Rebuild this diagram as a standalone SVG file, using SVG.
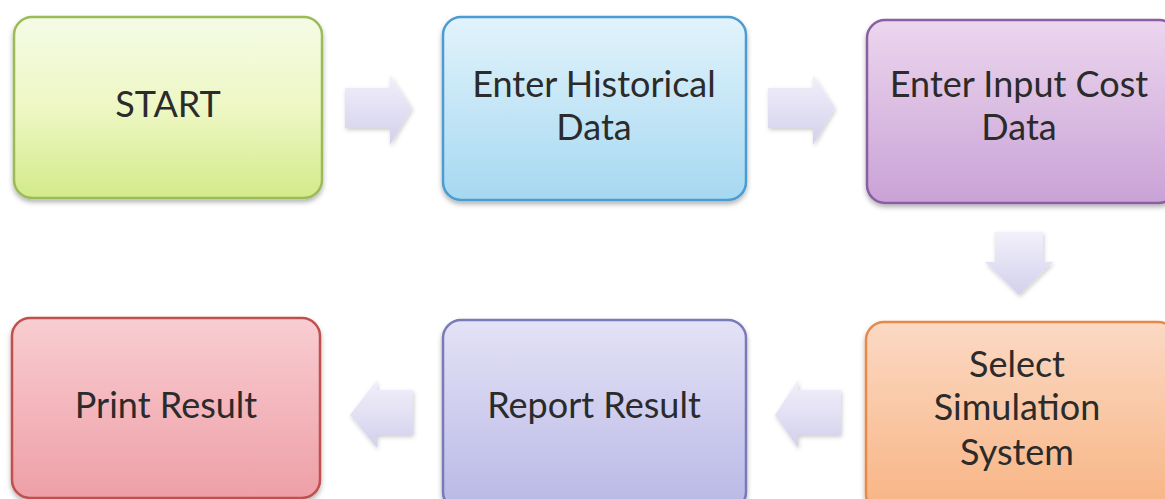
<svg xmlns="http://www.w3.org/2000/svg" width="1165" height="499" viewBox="0 0 1165 499">
<style>
.lbl{font-family:Lato,"Open Sans","Liberation Sans",sans-serif;font-size:36px;fill:#2b2b2b;text-anchor:middle}
.box{stroke-width:2.5;filter:url(#sh)}
.arr{fill:url(#ga);filter:url(#sh2)}
</style>
<defs>
<filter id="sh" x="-10%" y="-10%" width="120%" height="125%"><feDropShadow dx="0" dy="3" stdDeviation="2.5" flood-color="#000" flood-opacity="0.3"/></filter>
<filter id="sh2" x="-20%" y="-20%" width="140%" height="140%"><feDropShadow dx="1" dy="2" stdDeviation="2" flood-color="#000" flood-opacity="0.2"/></filter>
<linearGradient id="gg" x1="0" y1="0" x2="0" y2="1"><stop offset="0" stop-color="#f4fbe6"/><stop offset="0.5" stop-color="#eef7c4"/><stop offset="1" stop-color="#d3ea8a"/></linearGradient>
<linearGradient id="gb" x1="0" y1="0" x2="0" y2="1"><stop offset="0" stop-color="#e2f3fb"/><stop offset="1" stop-color="#a6d8f1"/></linearGradient>
<linearGradient id="gp" x1="0" y1="0" x2="0" y2="1"><stop offset="0" stop-color="#ecd6ee"/><stop offset="1" stop-color="#c9a2d6"/></linearGradient>
<linearGradient id="go" x1="0" y1="0" x2="0" y2="1"><stop offset="0" stop-color="#fbd9c4"/><stop offset="1" stop-color="#f8b483"/></linearGradient>
<linearGradient id="gl" x1="0" y1="0" x2="0" y2="1"><stop offset="0" stop-color="#e4e2f6"/><stop offset="1" stop-color="#b8b8e6"/></linearGradient>
<linearGradient id="gr" x1="0" y1="0" x2="0" y2="1"><stop offset="0" stop-color="#f8cdd1"/><stop offset="1" stop-color="#ee9fa7"/></linearGradient>
<linearGradient id="ga" x1="0" y1="0" x2="0" y2="1"><stop offset="0" stop-color="#f2f0fa"/><stop offset="1" stop-color="#d2d0ec"/></linearGradient>
</defs>
<rect width="1165" height="499" fill="#fff"/>
<g id="connectors">
<path class="arr" d="M345,88 H390 V75 L412,108 L390,145 V128 H345 Z"/>
<path class="arr" d="M768,88 H813 V75 L835,108 L813,145 V128 H768 Z"/>
<path class="arr" d="M995,232 H1043 V262 H1053 L1019,295 L985,262 H995 Z"/>
<path class="arr" d="M841,390 H798 V380 L775,415 L798,448 V435 H841 Z"/>
<path class="arr" d="M413,390 H377 V380 L350,415 L377,448 V435 H413 Z"/>
</g>
<g id="start"><rect class="box" x="14" y="17" width="308" height="181" rx="18" fill="url(#gg)" stroke="#9bbb59"/><text class="lbl" x="168" y="117">START</text></g>
<g id="hist"><rect class="box" x="443" y="17" width="303" height="183" rx="18" fill="url(#gb)" stroke="#4b9cd3"/><text class="lbl" x="594" y="97">Enter Historical</text><text class="lbl" x="594" y="140">Data</text></g>
<g id="cost"><rect class="box" x="867" y="20" width="310" height="183" rx="18" fill="url(#gp)" stroke="#8a5ea2"/><text class="lbl" x="1019" y="97">Enter Input Cost</text><text class="lbl" x="1019" y="140">Data</text></g>
<g id="select"><rect class="box" x="866" y="322" width="310" height="190" rx="18" fill="url(#go)" stroke="#e8894a"/><text class="lbl" x="1017" y="377">Select</text><text class="lbl" x="1017" y="420">Simulation</text><text class="lbl" x="1017" y="465">System</text></g>
<g id="report"><rect class="box" x="443" y="320" width="303" height="190" rx="18" fill="url(#gl)" stroke="#7a7ab8"/><text class="lbl" x="594" y="418">Report Result</text></g>
<g id="print"><rect class="box" x="12" y="318" width="308" height="180" rx="18" fill="url(#gr)" stroke="#c0504d"/><text class="lbl" x="166" y="418">Print Result</text></g>
</svg>
